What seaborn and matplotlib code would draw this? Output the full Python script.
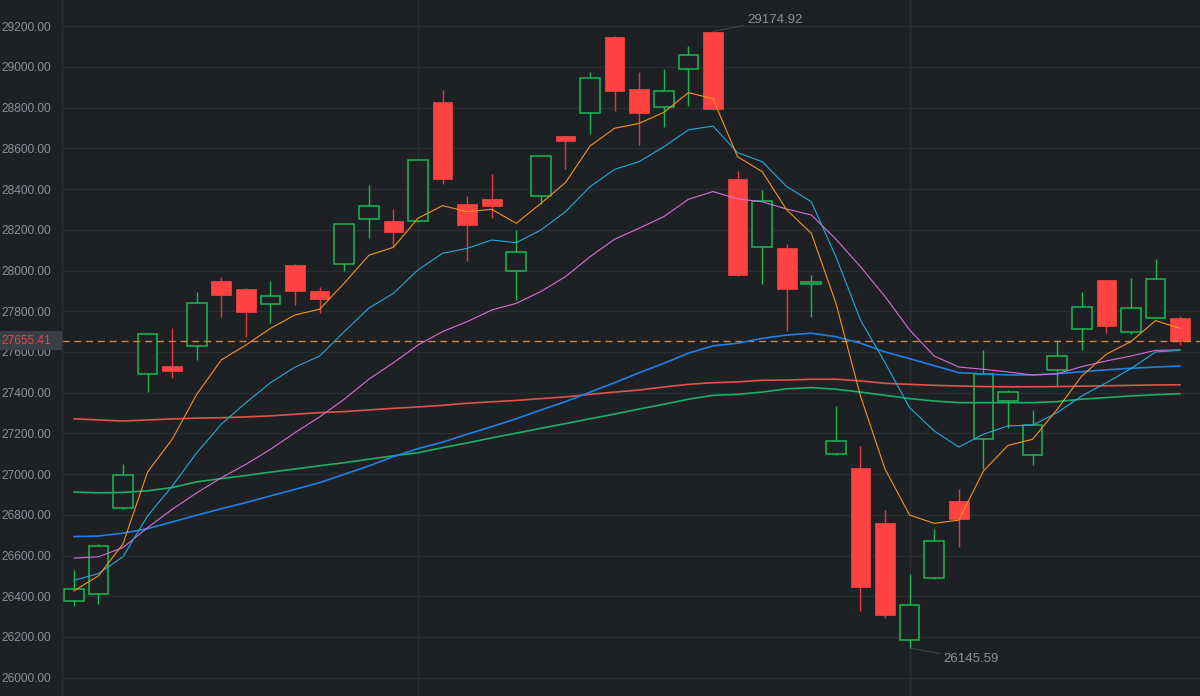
import matplotlib
matplotlib.use("Agg")
import matplotlib.pyplot as plt
import matplotlib.transforms as mtransforms
from matplotlib.patches import Rectangle
import seaborn as sns
import pandas as pd
import numpy as np

# OHLC values (46 candles)
opens = [26375, 26410, 26833, 27493, 27531, 27630, 27949, 27911, 27834, 28026,
         27900, 28031, 28252, 28242, 28245, 28827, 28327, 28352, 27998, 28366,
         28663, 28774, 29147, 28890, 28804, 28989, 29171, 28448, 28114, 28111,
         27935, 27097, 27031, 26758, 26187, 26488, 26868, 27171, 27358, 27093,
         27513, 27713, 27954, 27697, 27766, 27769]
highs = [26528, 26656, 27050, 27690, 27718, 27895, 27970, 27915, 27950, 28030,
         27921, 28235, 28422, 28301, 28545, 28887, 28368, 28474, 28199, 28563,
         28663, 28976, 29150, 28976, 28990, 29102, 29174.92, 28489, 28396, 28130,
         27978, 27334, 27136, 26822, 26510, 26730, 26925, 27610, 27412, 27315,
         27660, 27895, 27954, 27963, 28058, 27777]
lows = [26354, 26360, 26830, 27402, 27471, 27559, 27770, 27672, 27741, 27829,
        27793, 27996, 28159, 28122, 28240, 28423, 28049, 28260, 27855, 28326,
        28500, 28670, 28785, 28617, 28707, 28807, 28789, 27975, 27935, 27702,
        27770, 27095, 26327, 26292, 26145.59, 26486, 26641, 27027, 27225, 27044,
        27428, 27610, 27692, 27690, 27766, 27634]
closes = [26437, 26646, 26994, 27688, 27507, 27842, 27882, 27795, 27875, 27901,
          27860, 28227, 28319, 28188, 28542, 28448, 28222, 28319, 28090, 28563,
          28635, 28947, 28882, 28772, 28884, 29058, 28792, 27980, 28343, 27909,
          27945, 27161, 26444, 26306, 26357, 26672, 26781, 27492, 27405, 27240,
          27582, 27820, 27729, 27815, 27957, 27655.41]

# moving average lines
ma5 = [26426, 26500, 26657, 27010, 27171, 27392, 27561, 27634, 27716, 27782,
       27810, 27938, 28075, 28114, 28257, 28319, 28289, 28301, 28232, 28330,
       28432, 28612, 28699, 28723, 28777, 28874, 28844, 28559, 28486, 28298,
       28183, 27840, 27384, 27024, 26799, 26758, 26774, 27015, 27141, 27171,
       27318, 27482, 27589, 27651, 27754, 27716]
ma10 = [26478, 26511, 26594, 26794, 26941, 27105, 27245, 27351, 27449, 27526,
        27580, 27700, 27815, 27888, 28003, 28085, 28109, 28150, 28137, 28199,
        28289, 28412, 28497, 28535, 28608, 28691, 28710, 28579, 28535, 28412,
        28338, 28068, 27757, 27547, 27326, 27212, 27133, 27196, 27237, 27240,
        27302, 27384, 27449, 27518, 27600, 27608]
ma20 = [26587, 26594, 26639, 26737, 26827, 26908, 26982, 27048, 27122, 27204,
        27281, 27368, 27466, 27547, 27634, 27700, 27749, 27806, 27839, 27897,
        27970, 28068, 28154, 28208, 28265, 28350, 28388, 28352, 28338, 28302,
        28273, 28154, 28019, 27872, 27708, 27580, 27526, 27515, 27502, 27487,
        27493, 27528, 27556, 27580, 27608, 27610]
ma60 = [26693, 26696, 26710, 26732, 26765, 26798, 26830, 26860, 26893, 26925,
        26958, 26999, 27040, 27086, 27125, 27157, 27196, 27233, 27272, 27315,
        27356, 27403, 27449, 27498, 27544, 27594, 27630, 27643, 27667, 27683,
        27692, 27675, 27643, 27600, 27567, 27533, 27498, 27492, 27487, 27487,
        27493, 27503, 27512, 27520, 27526, 27531]
ma120 = [27272, 27266, 27261, 27266, 27271, 27275, 27277, 27281, 27286, 27294,
         27302, 27307, 27315, 27323, 27330, 27338, 27348, 27355, 27362, 27371,
         27379, 27392, 27403, 27413, 27428, 27441, 27449, 27453, 27461, 27462,
         27466, 27466, 27458, 27446, 27441, 27436, 27433, 27430, 27429, 27429,
         27430, 27432, 27434, 27436, 27438, 27439]
ma250 = [26912, 26908, 26910, 26918, 26934, 26962, 26978, 26993, 27010, 27025,
         27041, 27056, 27073, 27090, 27105, 27130, 27153, 27178, 27201, 27225,
         27248, 27272, 27295, 27320, 27343, 27368, 27387, 27392, 27403, 27419,
         27425, 27417, 27403, 27387, 27371, 27359, 27351, 27351, 27351, 27351,
         27356, 27368, 27376, 27384, 27390, 27395]

yticks = list(range(26000, 29201, 200))
last_price = 27655.41

BG = "#1e2124"
GRID = "#2a2e33"
TEXT = "#8b9098"
UP = "#18b955"
DOWN = "#ff4343"

sns.set_theme(style="dark", rc={
    "axes.facecolor": BG,
    "figure.facecolor": BG,
    "grid.color": GRID,
    "axes.edgecolor": GRID,
})
plt.rcParams["font.family"] = ["Liberation Sans", "DejaVu Sans"]

fig = plt.figure(figsize=(12, 6.96), dpi=100)
ax = fig.add_axes([62 / 1200, 0, 1138 / 1200, 1])

idx = np.arange(len(opens))
o = np.array(opens)
c = np.array(closes)
up = c >= o

# wicks
ax.vlines(idx[up], np.array(lows)[up], np.array(highs)[up], colors=UP, lw=1.0, zorder=2)
ax.vlines(idx[~up], np.array(lows)[~up], np.array(highs)[~up], colors="#e03c3c", lw=1.0, zorder=2)

# bodies
ax.bar(idx[up], (c - o)[up], bottom=o[up], width=0.8, facecolor=BG,
       edgecolor=UP, linewidth=1.1, zorder=2.2)
ax.bar(idx[~up], (o - c)[~up], bottom=c[~up], width=0.8, facecolor=DOWN,
       edgecolor=DOWN, linewidth=0.5, zorder=2.2)

# moving averages
ma_lines = [
    (ma120, "#e0524c", 1.2),
    (ma250, "#1fae66", 1.2),
    (ma60, "#1e7fe6", 1.2),
    (ma20, "#d56ed6", 0.8),
    (ma10, "#23a9d9", 0.8),
    (ma5, "#f5921e", 0.8),
]
for vals, col, lw in ma_lines:
    df = pd.DataFrame({"i": idx, "v": vals})
    sns.lineplot(data=df, x="i", y="v", color=col, lw=lw, ax=ax, zorder=3)

# last price line
ax.axhline(last_price, color="#c8874a", lw=1.0, ls=(0, (5, 3.5)), zorder=2.5)

ax.set_xlim(-0.48, 45.81)
ax.set_ylim(25910, 29329)
ax.set_yticks(yticks)
ax.set_yticklabels([f"{v:.2f}" for v in yticks], color=TEXT, fontsize=8.6)
ax.set_xticks([14, 34])
ax.set_xticklabels([])
ax.tick_params(axis="both", length=0)
ax.tick_params(axis="y", pad=8)
ax.grid(True, color=GRID, lw=1.0)
ax.set_xlabel("")
ax.set_ylabel("")
for side in ["top", "right", "bottom"]:
    ax.spines[side].set_visible(False)
ax.spines["left"].set_color(GRID)
ax.spines["left"].set_linewidth(1.0)

# high / low annotations
hi_i = int(np.argmax(highs))
lo_i = int(np.argmin(lows))
ax.annotate(f"{highs[hi_i]:.2f}", xy=(hi_i, highs[hi_i]), xytext=(25, 8.5),
            textcoords="offset points", ha="left", va="center", color=TEXT,
            fontsize=9.5, arrowprops=dict(arrowstyle="-", color="#4a4f55", lw=0.6,
                                           shrinkA=0, shrinkB=1), zorder=4)
ax.annotate(f"{lows[lo_i]:.2f}", xy=(lo_i, lows[lo_i]), xytext=(24.5, -8),
            textcoords="offset points", ha="left", va="center", color=TEXT,
            fontsize=9.5, arrowprops=dict(arrowstyle="-", color="#4a4f55", lw=0.6,
                                           shrinkA=0, shrinkB=1), zorder=4)

# last price tag on the axis
trans = mtransforms.blended_transform_factory(fig.transFigure, ax.transData)
box_h = 18.6 / (696 / (29329 - 25910))
ax.add_patch(Rectangle((0, last_price - box_h / 2), 62 / 1200, box_h,
                       transform=trans, facecolor="#3a3f45", edgecolor="none",
                       clip_on=False, zorder=5))
ax.text(51 / 1200, last_price, f"{last_price:.2f}", transform=trans, ha="right",
        va="center", color="#e8414a", fontsize=8.6, zorder=6, clip_on=False)

fig.savefig("out.png", dpi=100, facecolor=BG)
